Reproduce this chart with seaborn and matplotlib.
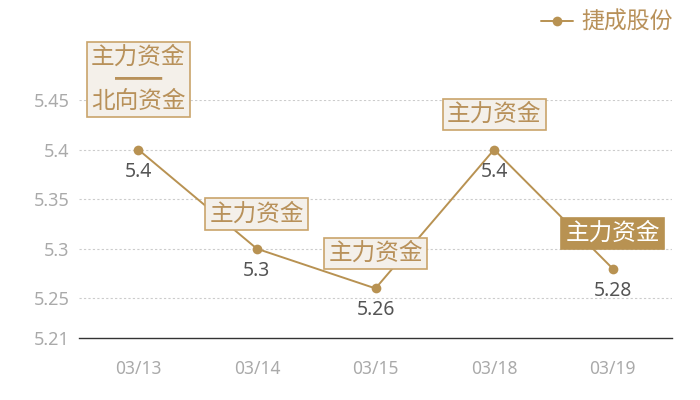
import pandas as pd
import seaborn as sns
import matplotlib.pyplot as plt

dates = ["03/13", "03/14", "03/15", "03/18", "03/19"]
prices = [5.4, 5.3, 5.26, 5.4, 5.28]
value_labels = ["5.4", "5.3", "5.26", "5.4", "5.28"]
box_texts = ["主力资金\n\u2501\u2501\n北向资金", "主力资金", "主力资金", "主力资金", "主力资金"]
box_filled = [False, False, False, False, True]
y_ticks = [5.21, 5.25, 5.3, 5.35, 5.4, 5.45]
y_tick_labels = ["5.21", "5.25", "5.3", "5.35", "5.4", "5.45"]
series_name = "捷成股份"

GOLD = "#b89252"
BOX_FILL = "#f4f0ea"
BOX_EDGE = "#c9a46b"

sns.set_style("white")
plt.rcParams["font.family"] = ["Noto Sans CJK SC", "DejaVu Sans"]

df = pd.DataFrame({"date": dates, "price": prices})

fig = plt.figure(figsize=(7, 4), dpi=100)
ax = fig.add_axes([79 / 700, 62 / 400, 593 / 700, 238 / 400])

sns.lineplot(data=df, x="date", y="price", ax=ax, color=GOLD, linewidth=1.4,
             marker="o", markersize=7, markeredgewidth=0, label=series_name, zorder=3)

ax.set_xlim(-0.5, len(dates) - 0.5)
ax.set_ylim(y_ticks[0], y_ticks[-1])
ax.set_yticks(y_ticks)
ax.set_yticklabels(y_tick_labels)
ax.set_xlabel("")
ax.set_ylabel("")
ax.tick_params(axis="y", length=0, pad=7, labelsize=13, labelcolor="#aaaaaa")
ax.tick_params(axis="x", length=0, pad=16, labelsize=12.5, labelcolor="#aaaaaa")
for t in ax.get_yticklabels():
    t.set_fontfamily(["Noto Sans", "DejaVu Sans"])
for t in ax.get_xticklabels():
    t.set_fontfamily(["Noto Sans", "DejaVu Sans"])

for y in y_ticks[1:]:
    ax.axhline(y, color="#cccccc", linewidth=0.8, linestyle=(0, (2, 2)), zorder=0)
for side in ["top", "right", "left"]:
    ax.spines[side].set_visible(False)
ax.spines["bottom"].set_color("#333333")
ax.spines["bottom"].set_linewidth(1)

px = 72 / 100
for i, (v, lab) in enumerate(zip(prices, value_labels)):
    ax.annotate(lab, xy=(i, v), xytext=(0, -22 * px), textcoords="offset points",
                ha="center", va="center", fontsize=14, color="#555555",
                family=["Noto Sans", "DejaVu Sans"], zorder=4)

for i, (v, txt, filled) in enumerate(zip(prices, box_texts, box_filled)):
    offset = 70 if "\n" in txt else 35
    ax.annotate(txt, xy=(i, v), xytext=(0, offset * px), textcoords="offset points",
                ha="center", va="center", fontsize=17, linespacing=0.95,
                color="white" if filled else "#b8915a", annotation_clip=False,
                bbox=dict(boxstyle="square,pad=0.18",
                          fc=GOLD if filled else BOX_FILL,
                          ec=GOLD if filled else BOX_EDGE, lw=1.2),
                zorder=5)

leg = ax.legend(loc="upper right", bbox_to_anchor=(694 / 700, 410 / 400),
                bbox_transform=fig.transFigure, frameon=False, fontsize=16.5,
                handlelength=1.4, handletextpad=0.4, labelcolor="#b8915a")

fig.savefig("out.png", dpi=100)
